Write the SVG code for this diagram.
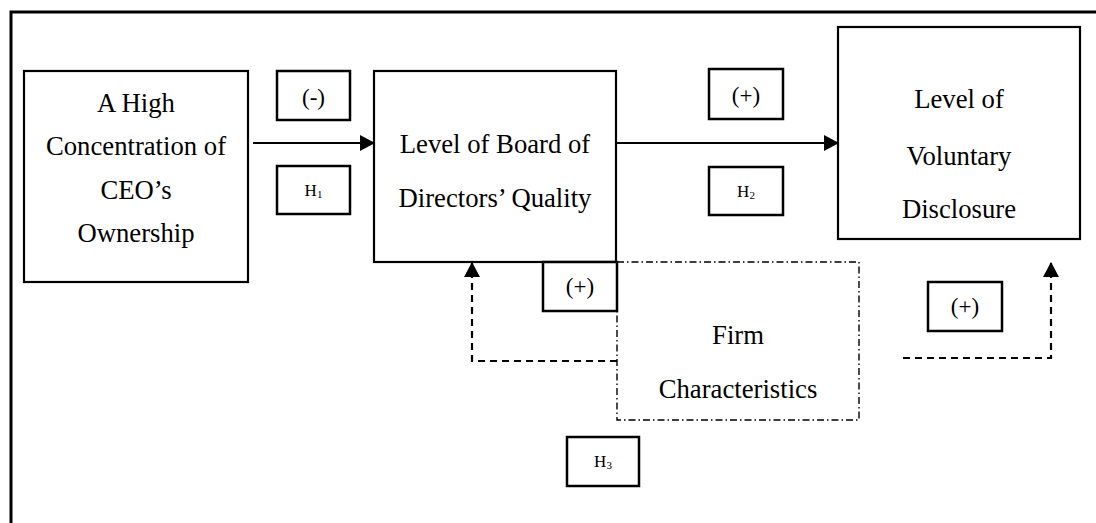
<svg xmlns="http://www.w3.org/2000/svg" width="1096" height="523" viewBox="0 0 1096 523">
<style>
text{font-family:"Liberation Serif","Times New Roman",serif;fill:#000;text-anchor:middle}
.main{font-size:26.7px}
.sign{font-size:23px}
.h{font-size:17px}
.sub{font-size:11px}
.box{fill:#fff;stroke:#000;stroke-width:2.2}
.lab{fill:#fff;stroke:#000;stroke-width:2.5}
.conn{fill:none;stroke:#000;stroke-width:2}
.dash{fill:none;stroke:#000;stroke-width:2.2;stroke-dasharray:7 5}
.dd{fill:none;stroke:#000;stroke-width:1.4;stroke-dasharray:7 3 1.5 3}
</style>
<defs>
<marker id="ah" markerUnits="userSpaceOnUse" markerWidth="15" markerHeight="16" refX="14" refY="8" orient="auto">
<path d="M0,0 L15,8 L0,16 Z" fill="#000"/>
</marker>
</defs>
<rect width="1096" height="523" fill="#fff"/>
<path d="M11,523 V12 H1096" fill="none" stroke="#000" stroke-width="3"/>

<g id="firm">
<rect class="dd" x="617" y="262" width="242" height="158"/>
<text class="main" x="738" y="344">Firm</text>
<text class="main" x="738" y="398">Characteristics</text>
</g>

<g id="connectors">
<line class="conn" x1="253" y1="143" x2="374" y2="143" marker-end="url(#ah)"/>
<line class="conn" x1="616" y1="143" x2="838" y2="143" marker-end="url(#ah)"/>
<path class="dash" d="M617,361 H472 V263" marker-end="url(#ah)"/>
<path class="dash" d="M903,358 H1051 V263" marker-end="url(#ah)"/>
</g>

<g id="ceo">
<rect class="box" x="24" y="71" width="224" height="211"/>
<text class="main" x="136" y="112">A High</text>
<text class="main" x="136" y="155">Concentration of</text>
<text class="main" x="136" y="199">CEO’s</text>
<text class="main" x="136" y="242">Ownership</text>
</g>

<g id="board">
<rect class="box" x="374" y="71" width="242" height="191"/>
<text class="main" x="495" y="153">Level of Board of</text>
<text class="main" x="495" y="207">Directors’ Quality</text>
</g>

<g id="disclosure">
<rect class="box" x="838" y="27" width="242" height="212"/>
<text class="main" x="959" y="108">Level of</text>
<text class="main" x="959" y="165">Voluntary</text>
<text class="main" x="959" y="218">Disclosure</text>
</g>

<g id="sign1">
<rect class="lab" x="277" y="71" width="73" height="49"/>
<text class="sign" x="313.5" y="105">(-)</text>
</g>
<g id="h1">
<rect class="lab" x="277" y="166" width="73" height="48"/>
<text class="h" x="313.5" y="196">H<tspan class="sub" dy="2">1</tspan></text>
</g>
<g id="sign2">
<rect class="lab" x="709" y="69" width="74" height="50"/>
<text class="sign" x="746" y="103">(+)</text>
</g>
<g id="h2">
<rect class="lab" x="709" y="167" width="74" height="48"/>
<text class="h" x="746" y="197">H<tspan class="sub" dy="2">2</tspan></text>
</g>
<g id="sign3">
<rect class="lab" x="543" y="262" width="74" height="49"/>
<text class="sign" x="580" y="294">(+)</text>
</g>
<g id="sign4">
<rect class="lab" x="928" y="282" width="74" height="49"/>
<text class="sign" x="965" y="314">(+)</text>
</g>
<g id="h3">
<rect class="lab" x="567" y="437" width="72" height="49"/>
<text class="h" x="603" y="467">H<tspan class="sub" dy="2">3</tspan></text>
</g>
</svg>
